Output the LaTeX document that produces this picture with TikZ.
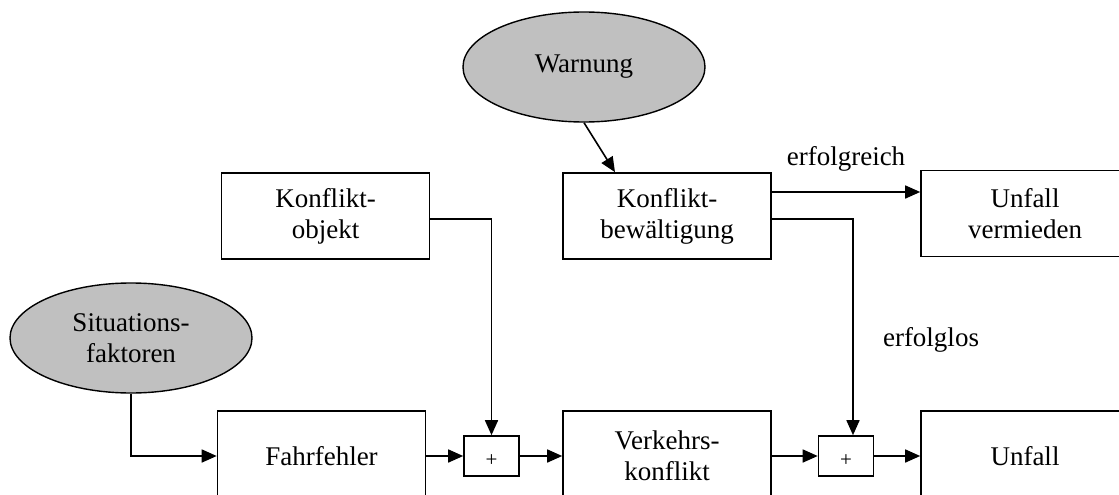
\documentclass[tikz,border=0pt]{standalone}
\usepackage{fontspec}
\setmainfont{Liberation Serif}
\usetikzlibrary{arrows.meta,shapes.geometric}
\definecolor{ovalgray}{RGB}{192,192,192}
\begin{document}
\begin{tikzpicture}[x=1pt, y=-1pt,
    every node/.style={font=\fontsize{27}{31}\selectfont, align=center},
    block/.style={draw, line width=1.6pt, minimum width=208pt, minimum height=86pt, inner sep=0pt},
    oval/.style={ellipse, draw, fill=ovalgray, line width=1.4pt, minimum width=242pt, minimum height=110pt, inner sep=0pt},
    junction/.style={draw, line width=1.6pt, minimum width=55pt, minimum height=40pt, inner sep=0pt,
      text height=21pt, text depth=0pt, font=\fontsize{21}{24}\selectfont},
    conn/.style={line width=1.6pt, -{Triangle[length=15pt, width=13pt]}}]
	% \draw[help lines] (0,0) grid (1119,495);
	\useasboundingbox (0,0) rectangle (1119,495);

	\node[oval] (warnung) at (584,67) {Warnung};
	\node[oval] (situation) at (131,338) {Situations-\\faktoren};

	\node[block] (objekt) at (325.5,216) {Konflikt-\\objekt};
	\node[block] (bewaeltigung) at (667,216) {Konflikt-\\bewältigung};
	\node[block] (vermieden) at (1025,213.5) {Unfall\\vermieden};

	\node[block, minimum height=90pt] (fahrfehler) at (321.5,456) {Fahrfehler};
	\node[junction] (plusA) at (491.5,456) {+};
	\node[block, minimum height=90pt] (verkehr) at (667,456) {Verkehrs-\\konflikt};
	\node[junction] (plusB) at (846,456) {+};
	\node[block, minimum height=90pt] (unfall) at (1025,456) {Unfall};

	\node (ok) at (846,159) {erfolgreich};
	\node (fail) at (931,340) {erfolglos};

	\coordinate (okout) at ([yshift=24pt]bewaeltigung.east);
	\coordinate (failout) at ([yshift=-3pt]bewaeltigung.east);

	\draw[conn] (warnung.south) -- ([xshift=-52pt]bewaeltigung.north);
	\draw[conn] (okout) -- (okout -| vermieden.west);
	\draw[conn] (failout) -| ([xshift=7pt]plusB.north);
	\draw[conn] ([yshift=-3pt]objekt.east) -| (plusA.north);
	\draw[conn] (situation.south) |- (fahrfehler.west);
	\draw[conn] (fahrfehler) -- (plusA);
	\draw[conn] (plusA) -- (verkehr);
	\draw[conn] (verkehr) -- (plusB);
	\draw[conn] (plusB) -- (unfall);
\end{tikzpicture}
\end{document}
